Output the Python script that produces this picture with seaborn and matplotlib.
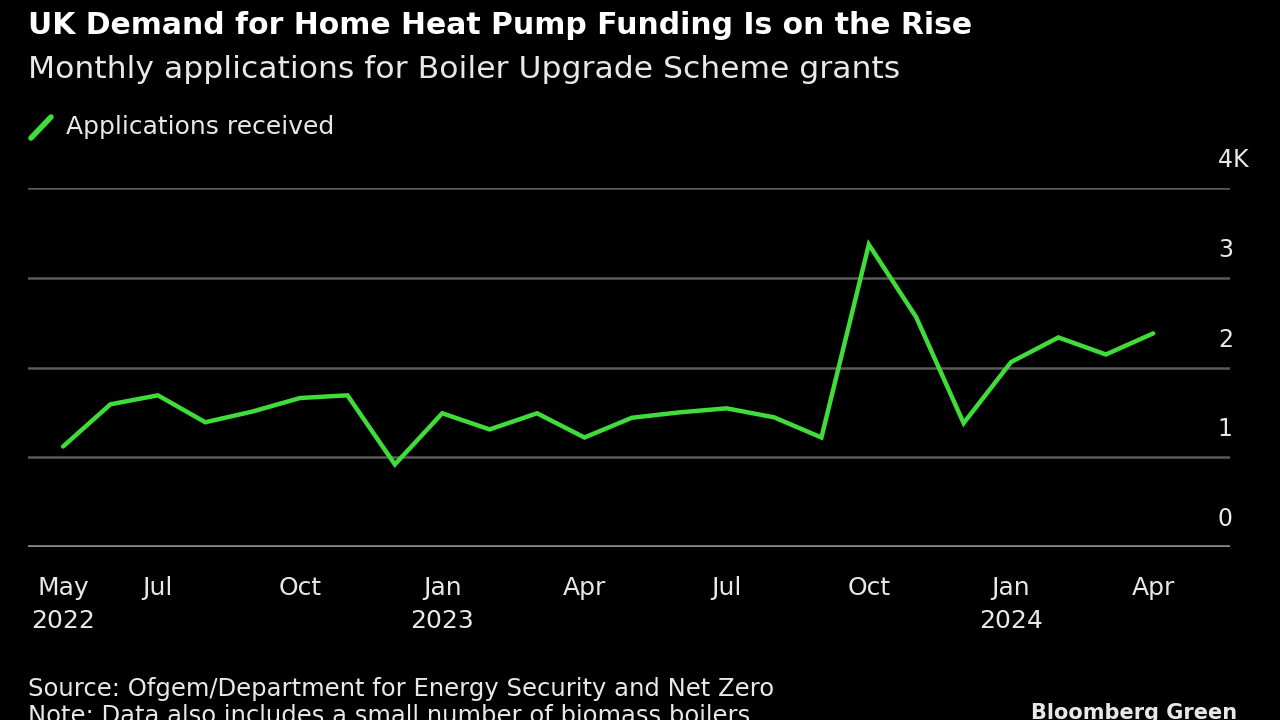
import matplotlib
matplotlib.use("Agg")
import matplotlib.pyplot as plt
import matplotlib.transforms as mtransforms
from matplotlib.lines import Line2D
import seaborn as sns
import pandas as pd

# Monthly applications received, May 2022 - Apr 2024
months = pd.date_range("2022-05-01", "2024-04-01", freq="MS")
applications = [1120, 1590, 1690, 1390, 1510, 1660, 1690, 920,
                1490, 1310, 1490, 1220, 1440, 1500, 1545, 1445,
                1220, 3370, 2560, 1380, 2060, 2335, 2145, 2380]

tick_idx = [0, 2, 5, 8, 11, 14, 17, 20, 23]
tick_labels = ["May\n2022", "Jul", "Oct", "Jan\n2023", "Apr", "Jul", "Oct", "Jan\n2024", "Apr"]
y_ticks = [0, 1000, 2000, 3000, 4000]
y_labels = ["0", "1", "2", "3", "4"]

GREEN = "#3fdc3a"
BG = "black"
TEXT = "#e8e8e8"
FONT = "DejaVu Sans"

sns.set_theme(style="dark")
plt.rcParams["font.family"] = [FONT]

df = pd.DataFrame({"idx": range(len(months)), "applications": applications})

fig = plt.figure(figsize=(12.8, 7.2), dpi=100, facecolor=BG)
ax = fig.add_axes([28 / 1280, 1 - 547 / 720, (1230 - 28) / 1280, (547 - 188) / 720])
ax.set_facecolor(BG)

sns.lineplot(data=df, x="idx", y="applications", color=GREEN, lw=3.2, ax=ax,
             solid_joinstyle="miter", zorder=3)

ax.set_xlim(-0.74, 24.62)
ax.set_ylim(0, 4000)
ax.set_xlabel("")
ax.set_ylabel("")
for s in ax.spines.values():
    s.set_visible(False)

# gridlines
for v in y_ticks[1:]:
    ax.axhline(v, color="#5a5a5a", lw=1.8, zorder=1)
ax.axhline(0, color="#8a8a8a", lw=2.6, zorder=2)

# x ticks
ax.set_xticks(tick_idx)
ax.set_xticklabels(tick_labels, fontsize=18, color=TEXT)
ax.tick_params(axis="x", direction="out", length=7, width=1.6, color="#8a8a8a", pad=14)
for lab in ax.get_xticklabels():
    lab.set_linespacing(1.45)
    lab.set_verticalalignment("top")
ax.set_yticks([])
ax.grid(False)

# y labels above gridlines on the right
off = mtransforms.offset_copy(ax.get_yaxis_transform(), fig=fig, x=2, y=20, units="points")
for v, lab in zip(y_ticks, y_labels):
    ax.text(1.0, v, lab, transform=off, ha="right", va="center", fontsize=17, color=TEXT)
ax.text(1.0, y_ticks[-1], "K", transform=off, ha="left", va="center", fontsize=17, color=TEXT)

# titles and legend
fig.text(28 / 1280, 1 - 25 / 720, "UK Demand for Home Heat Pump Funding Is on the Rise",
         fontsize=21.5, fontweight="bold", color="white", va="center", ha="left")
fig.text(28 / 1280, 1 - 69 / 720, "Monthly applications for Boiler Upgrade Scheme grants",
         fontsize=22.6, color=TEXT, va="center", ha="left")
fig.add_artist(Line2D([31 / 1280, 51 / 1280], [1 - 138 / 720, 1 - 117 / 720],
                      color=GREEN, lw=4, transform=fig.transFigure))
fig.text(66 / 1280, 1 - 127 / 720, "Applications received",
         fontsize=18, color=TEXT, va="center", ha="left")

# footer
fig.text(28 / 1280, 1 - 689 / 720, "Source: Ofgem/Department for Energy Security and Net Zero",
         fontsize=17.5, color=TEXT, va="center", ha="left")
fig.text(28 / 1280, 1 - 716 / 720, "Note: Data also includes a small number of biomass boilers",
         fontsize=17.5, color=TEXT, va="center", ha="left")
fig.text(1237 / 1280, 1 - 713 / 720, "Bloomberg Green",
         fontsize=15, fontweight="bold", color=TEXT, va="center", ha="right")

fig.savefig("out.png", dpi=100, facecolor=BG)
